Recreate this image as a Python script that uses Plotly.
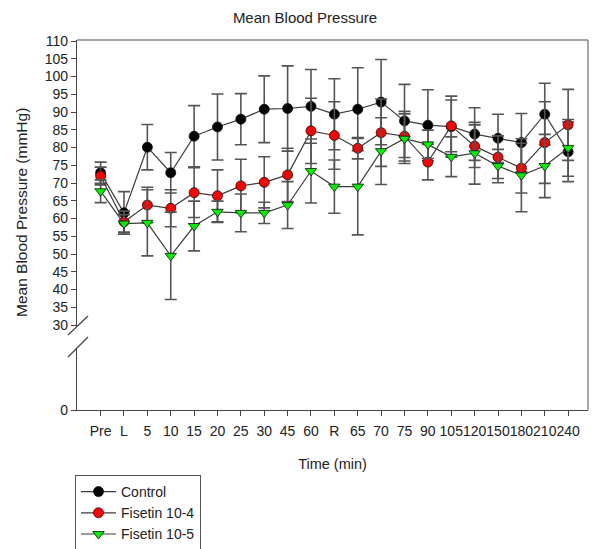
import plotly.graph_objects as go

# ---- data ----
time_labels = ["Pre", "L", "5", "10", "15", "20", "25", "30", "45", "60", "R",
               "65", "70", "75", "90", "105", "120", "150", "180", "210", "240"]

control_mean = [72.9, 61.6, 80.1, 72.9, 83.2, 85.8, 88.0, 90.8, 91.0, 91.6, 89.4,
                90.8, 92.8, 87.5, 86.3, 85.9, 83.8, 82.6, 81.4, 89.4, 78.8]
control_err = [3.0, 6.0, 6.4, 5.7, 8.6, 9.3, 7.2, 9.4, 12.0, 10.4, 10.0,
               11.7, 12.0, 10.3, 10.0, 8.6, 7.4, 6.8, 8.2, 8.7, 8.4]

fis4_mean = [72.0, 59.1, 63.8, 62.9, 67.3, 66.4, 69.2, 70.2, 72.3, 84.7, 83.4,
             79.8, 84.2, 83.2, 75.9, 86.1, 80.4, 77.3, 74.2, 81.4, 86.4]
fis4_err = [2.5, 3.0, 5.0, 5.2, 7.0, 7.3, 7.5, 7.2, 7.5, 9.2, 9.5,
            3.0, 9.5, 7.0, 5.0, 7.3, 6.0, 6.0, 7.0, 11.5, 10.0]

fis5_mean = [67.7, 58.6, 58.8, 49.5, 57.9, 61.9, 61.6, 61.6, 63.8, 73.4, 69.0,
             69.0, 79.0, 82.5, 80.9, 77.4, 78.4, 74.8, 72.2, 74.8, 79.9]
fis5_err = [3.2, 2.5, 9.3, 12.3, 7.0, 3.0, 5.3, 3.0, 6.6, 9.0, 7.5,
            13.6, 9.4, 7.0, 4.0, 5.6, 8.7, 4.7, 10.3, 8.9, 8.0]

upper_ticks = list(range(30, 111, 5))

FONT = "Arial, Liberation Sans, sans-serif"
AX = "#444444"

series = [
    ("Control", control_mean, control_err, "circle", "#000000", 10),
    ("Fisetin 10-4", fis4_mean, fis4_err, "circle", "#ff0000", 10),
    ("Fisetin 10-5", fis5_mean, fis5_err, "triangle-down", "#00ee00", 10),
]

fig = go.Figure()
for name, m, e, sym, col, sz in series:
    fig.add_trace(go.Scatter(
        x=time_labels, y=m, name=name, mode="lines+markers",
        line=dict(color="#3c3c3c", width=1.2),
        marker=dict(symbol=sym, color=col, size=sz,
                    line=dict(color="#111111", width=0.8)),
        error_y=dict(type="data", array=e, visible=True,
                     color="#555555", thickness=1.6, width=6),
        xaxis="x", yaxis="y",
    ))

# empty trace so the lower (broken) axis segment is drawn
fig.add_trace(go.Scatter(x=[], y=[], xaxis="x", yaxis="y2",
                         showlegend=False, hoverinfo="skip"))

W, H = 594, 549
L, R, T, B = 77, 6, 40, 139
ph = H - T - B
up_dom = (410 - 327) / ph
low_dom = (410 - 348) / ph

fig.update_layout(
    width=W, height=H,
    margin=dict(l=L, r=R, t=T, b=B, autoexpand=False),
    paper_bgcolor="white", plot_bgcolor="white",
    font=dict(family=FONT, size=14, color="#222222"),
    title=dict(text="Mean Blood Pressure", x=305 / W, xanchor="center",
               y=1 - 18 / H, yanchor="middle",
               font=dict(family=FONT, size=15, color="#222222")),
    xaxis=dict(type="category", range=[-1.01, 20.85], anchor="y2",
               showline=True, linecolor=AX, linewidth=1.2,
               ticks="outside", ticklen=5, tickcolor=AX, tickangle=0,
               ticklabelstandoff=3,
               showgrid=False, zeroline=False, automargin=False,
               tickfont=dict(size=14, color="#222222"),
               title=dict(text="Time (min)", standoff=20,
                          font=dict(size=14.5, color="#222222"))),
    yaxis=dict(domain=[up_dom, 1], range=[29.45, 110.3], anchor="x",
               tickvals=upper_ticks, showline=True, linecolor=AX, linewidth=1.2,
               ticks="outside", ticklen=5, tickcolor=AX, automargin=False,
               showgrid=False, zeroline=False,
               tickfont=dict(size=14, color="#222222")),
    yaxis2=dict(domain=[0, low_dom], range=[0, 17.5], anchor="x",
                tickvals=[0], showline=True, linecolor=AX, linewidth=1.2,
                ticks="outside", ticklen=5, tickcolor=AX, automargin=False,
                showgrid=False, zeroline=False,
                tickfont=dict(size=14, color="#222222")),
    legend=dict(xref="container", yref="container",
                x=75 / W, y=1 - 475 / H,
                xanchor="left", yanchor="top",
                bordercolor="#555555", borderwidth=1, bgcolor="white",
                font=dict(size=14, color="#222222"), itemwidth=35,
                tracegroupgap=0),
    showlegend=True,
)

# frame lines (top and right), and axis break marks
def px_x(p):
    return (p - L) / (W - L - R)

def px_y(p):
    return (410 - p) / ph

shapes = [
    dict(type="line", xref="paper", yref="paper", x0=0, x1=1, y0=1, y1=1,
         line=dict(color="#888888", width=1.5)),
    dict(type="line", xref="paper", yref="paper", x0=1, x1=1, y0=0, y1=1,
         line=dict(color="#888888", width=1.5)),
    dict(type="line", xref="paper", yref="paper",
         x0=px_x(68), y0=px_y(335), x1=px_x(88), y1=px_y(316),
         line=dict(color=AX, width=1.2)),
    dict(type="line", xref="paper", yref="paper",
         x0=px_x(68), y0=px_y(357), x1=px_x(88), y1=px_y(337),
         line=dict(color=AX, width=1.2)),
]
fig.update_layout(shapes=shapes)

fig.add_annotation(text="Mean Blood Pressure (mmHg)", xref="paper", yref="paper",
                   x=px_x(21), y=px_y(213), textangle=-90, showarrow=False,
                   xanchor="center", yanchor="middle",
                   font=dict(family=FONT, size=15.5, color="#222222"))

fig.write_html("out.html")
